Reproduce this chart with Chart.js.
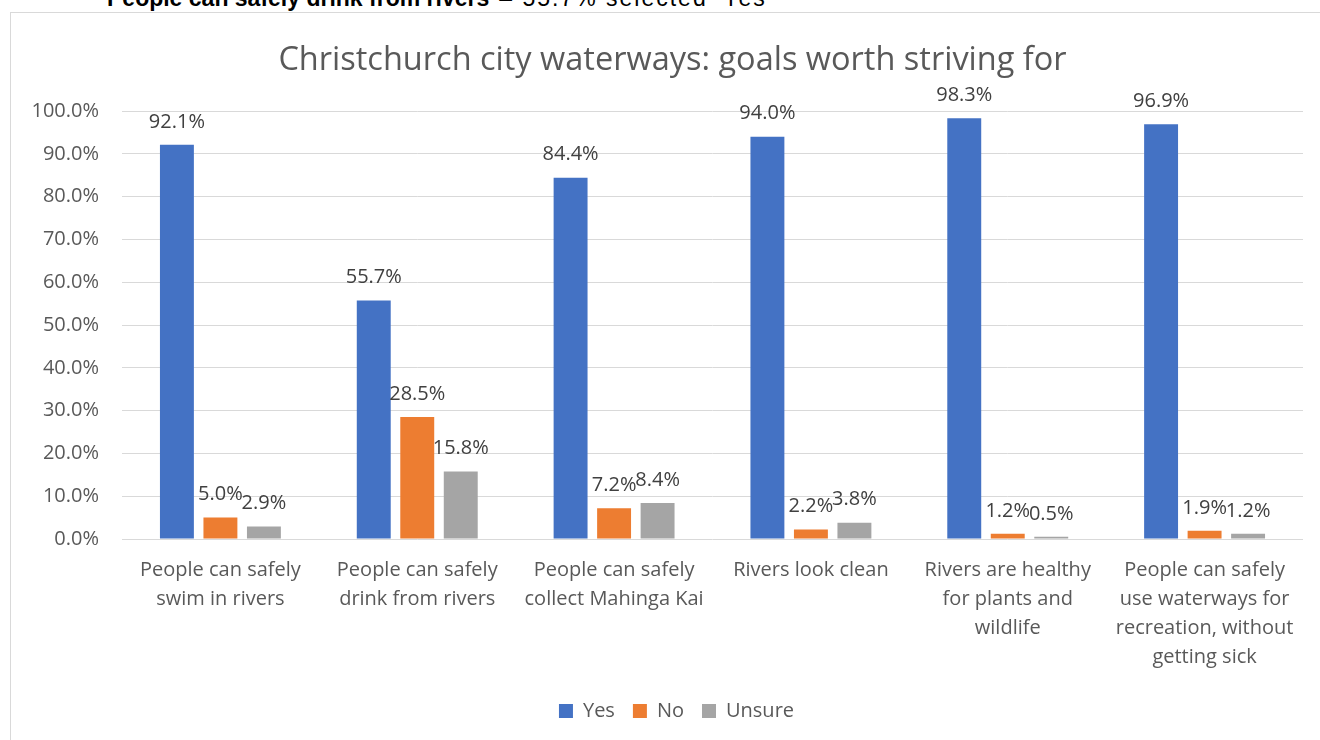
<!DOCTYPE html>
<html>
<head>
<meta charset="utf-8">
<script src="https://cdn.jsdelivr.net/npm/chart.js@4.4.0/dist/chart.umd.min.js"></script>
<style>
  html, body { margin: 0; padding: 0; background: #fff; overflow: hidden; }
  #wrap { position: relative; width: 1320px; height: 740px; }
  #caption {
    position: absolute; left: 107px; top: -13px; white-space: nowrap;
    font-family: "Liberation Sans", Arial, sans-serif; font-size: 23px; line-height: 23px; color: #000;
  }
  #caption b { font-weight: bold; }
  #caption span { margin-left: 10px; letter-spacing: 2px; }
  #frame {
    position: absolute; left: 10px; top: 12px; width: 1320px; height: 740px;
    border-left: 1px solid #d9d9d9; border-top: 1px solid #d9d9d9;
  }
  #grafico { position: absolute; left: 0; top: 0; }
</style>
</head>
<body>
<div id="wrap">
  <div id="caption"><b>People can safely drink from rivers</b><span>– 55.7% selected ‘Yes’</span></div>
  <div id="frame"></div>
  <canvas id="grafico" width="1320" height="740"></canvas>
</div>
<script>
const categorias = [
    ['People can safely', 'swim in rivers'],
    ['People can safely', 'drink from rivers'],
    ['People can safely', 'collect Mahinga Kai'],
    ['Rivers look clean'],
    ['Rivers are healthy', 'for plants and', 'wildlife'],
    ['People can safely', 'use waterways for', 'recreation, without', 'getting sick']
];
const valoresSi = [92.1, 55.7, 84.4, 94.0, 98.3, 96.9];
const valoresNo = [5.0, 28.5, 7.2, 2.2, 1.2, 1.9];
const valoresInseguro = [2.9, 15.8, 8.4, 3.8, 0.5, 1.2];
const marcasEjeY = [0, 10, 20, 30, 40, 50, 60, 70, 80, 90, 100];

const fuente = '"Open Sans"';
const grisTexto = '#595959';

// etiquetas de valor sobre cada barra
const etiquetasBarras = {
    id: 'etiquetasBarras',
    afterDatasetsDraw(chart) {
        const ctx = chart.ctx;
        ctx.save();
        ctx.font = `20px ${fuente}`;
        ctx.fillStyle = '#404040';
        ctx.textAlign = 'center';
        ctx.textBaseline = 'middle';
        chart.data.datasets.forEach((ds, i) => {
            chart.getDatasetMeta(i).data.forEach((barra, j) => {
                ctx.fillText(ds.data[j].toFixed(1) + '%', barra.x, barra.y - 23);
            });
        });
        ctx.restore();
    }
};

// título y leyenda van centrados en el marco, no en el lienzo
const centrarEnMarco = {
    id: 'centrarEnMarco',
    afterLayout(chart) {
        chart.legend.left += 25;
        chart.legend.right += 25;
        chart.titleBlock.left += 21;
        chart.titleBlock.right += 21;
    }
};

Chart.defaults.font.family = fuente;
Chart.defaults.color = grisTexto;

const ctx = document.getElementById('grafico').getContext('2d');
new Chart(ctx, {
    type: 'bar',
    data: {
        labels: categorias,
        datasets: [
            { label: 'Yes', data: valoresSi, backgroundColor: '#4472C4' },
            { label: 'No', data: valoresNo, backgroundColor: '#ED7D31' },
            { label: 'Unsure', data: valoresInseguro, backgroundColor: '#A5A5A5' }
        ]
    },
    options: {
        responsive: false,
        animation: false,
        categoryPercentage: 0.663,
        barPercentage: 0.78,
        layout: { padding: { left: 0, right: 17, top: 0, bottom: 9 } },
        plugins: {
            title: {
                display: true,
                text: 'Christchurch city waterways: goals worth striving for',
                font: { size: 32.5, weight: 'normal' },
                color: grisTexto,
                padding: { top: 41, bottom: 31 }
            },
            legend: {
                position: 'bottom',
                labels: {
                    boxWidth: 14,
                    boxHeight: 14,
                    padding: 18,
                    font: { size: 20 },
                    color: grisTexto
                }
            },
            tooltip: { enabled: false }
        },
        scales: {
            x: {
                grid: { display: false, drawTicks: false },
                border: { display: false },
                ticks: {
                    autoSkip: false,
                    maxRotation: 0,
                    padding: 17,
                    font: { size: 20, lineHeight: 1.45 },
                    color: grisTexto
                },
                afterFit(scale) { scale.height = 144; }
            },
            y: {
                min: 0,
                max: 100,
                afterBuildTicks(scale) { scale.ticks = marcasEjeY.map(v => ({ value: v })); },
                grid: { color: '#d9d9d9', lineWidth: 1, drawTicks: false },
                border: { display: false },
                ticks: {
                    padding: 23,
                    font: { size: 20 },
                    color: grisTexto,
                    callback: v => v.toFixed(1) + '%'
                },
                afterFit(scale) { scale.width = 122; }
            }
        }
    },
    plugins: [etiquetasBarras, centrarEnMarco]
});
</script>
</body>
</html>
